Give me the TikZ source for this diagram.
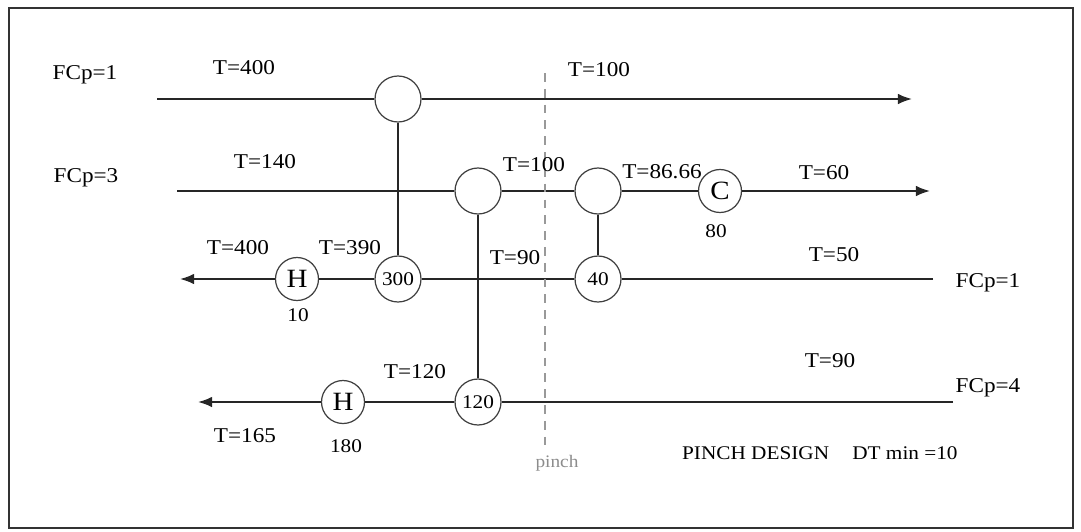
\documentclass[tikz,border=0pt]{standalone}
\usepackage{fontspec}
\setmainfont[FakeStretch=1.1]{Liberation Serif}
\usepackage{tikz}
\usetikzlibrary{arrows.meta,positioning}

\begin{document}
\begin{tikzpicture}[x=0.02cm,y=-0.02cm,
      every node/.style={font=\fontsize{12}{14}\selectfont,inner sep=1pt},
      exch/.style={circle,draw=black!75,line width=0.7pt,minimum size=46*0.02cm,
                   inner sep=0pt,font=\fontsize{11}{13}\selectfont},
      util/.style={exch,minimum size=43*0.02cm,font=\fontsize{15}{17}\selectfont},
      stream/.style={draw=black!85,line width=1pt},
      streamend/.style={stream,-{Latex[length=8pt,width=6pt]}},
      duty/.style={font=\fontsize{11}{13}\selectfont},
      pinchline/.style={draw=black!40,line width=0.6pt,dash pattern=on 5pt off 4pt}]
    \useasboundingbox (0,0) rectangle (1081,531);
    \draw[black!80,line width=1.2pt] (9,8) rectangle (1073,528);

    % exchangers and utilities
    \node[exch] (e1h) at (398,99) {};
    \node[exch] (e1c) at (398,279) {300};
    \node[exch] (e2h) at (478,191) {};
    \node[exch] (e2c) at (478,402) {120};
    \node[exch] (e3h) at (598,191) {};
    \node[exch] (e3c) at (598,279) {40};
    \node[util] (c1) at (720,191) {C};
    \node[util] (h1) at (297,279) {H};
    \node[util] (h2) at (343,402) {H};

    % stream ends
    \coordinate (s1a) at (157,99);  \coordinate (s1b) at (912,99);
    \coordinate (s2a) at (177,191); \coordinate (s2b) at (930,191);
    \coordinate (s3a) at (933,279); \coordinate (s3b) at (180,279);
    \coordinate (s4a) at (953,402); \coordinate (s4b) at (198,402);

    \draw[stream] (s1a) -- (e1h);
    \draw[streamend] (e1h) -- (s1b);
    \draw[stream] (s2a) -- (e2h);
    \draw[stream] (e2h) -- (e3h);
    \draw[stream] (e3h) -- (c1);
    \draw[streamend] (c1) -- (s2b);
    \draw[stream] (s3a) -- (e3c);
    \draw[stream] (e3c) -- (e1c);
    \draw[stream] (e1c) -- (h1);
    \draw[streamend] (h1) -- (s3b);
    \draw[stream] (s4a) -- (e2c);
    \draw[stream] (e2c) -- (h2);
    \draw[streamend] (h2) -- (s4b);

    % matches
    \draw[stream] (e1h) -- (e1c);
    \draw[stream] (e2h) -- (e2c);
    \draw[stream] (e3h) -- (e3c);

    % pinch
    \coordinate (p1) at (545,73);
    \coordinate (p2) at (545,446);
    \draw[pinchline] (p1) -- (p2);
    \node[text=black!45,font=\fontsize{10}{12}\selectfont] (pinch) at (557,463) {pinch};

    % labels
    \node (f1) at (85,75) {FCp=1};
    \node (t1a) at (244,68) {T=400};
    \node (t1b) at (599,70) {T=100};
    \node (f2) at (86,178) {FCp=3};
    \node (t2a) at (265,162) {T=140};
    \node (t2b) at (534,165) {T=100};
    \node (t2c) at (662,172) {T=86.66};
    \node (t2d) at (824,173) {T=60};
    \node[duty] (q1) at (716,231) {80};
    \node (t3a) at (238,248) {T=400};
    \node (t3b) at (350,248) {T=390};
    \node (t3c) at (515,258) {T=90};
    \node (t3d) at (834,255) {T=50};
    \node (f3) at (988,283) {FCp=1};
    \node[duty] (q2) at (298,315) {10};
    \node (t4a) at (415,372) {T=120};
    \node (t4b) at (245,436) {T=165};
    \node[duty] (q3) at (346,446) {180};
    \node (t4c) at (830,361) {T=90};
    \node (f4) at (988,388) {FCp=4};
    \node[anchor=west,font=\fontsize{11}{13}\selectfont] (title) at (680,453)
      {PINCH DESIGN\hspace{1.2em}DT min =10};
\end{tikzpicture}
\end{document}
